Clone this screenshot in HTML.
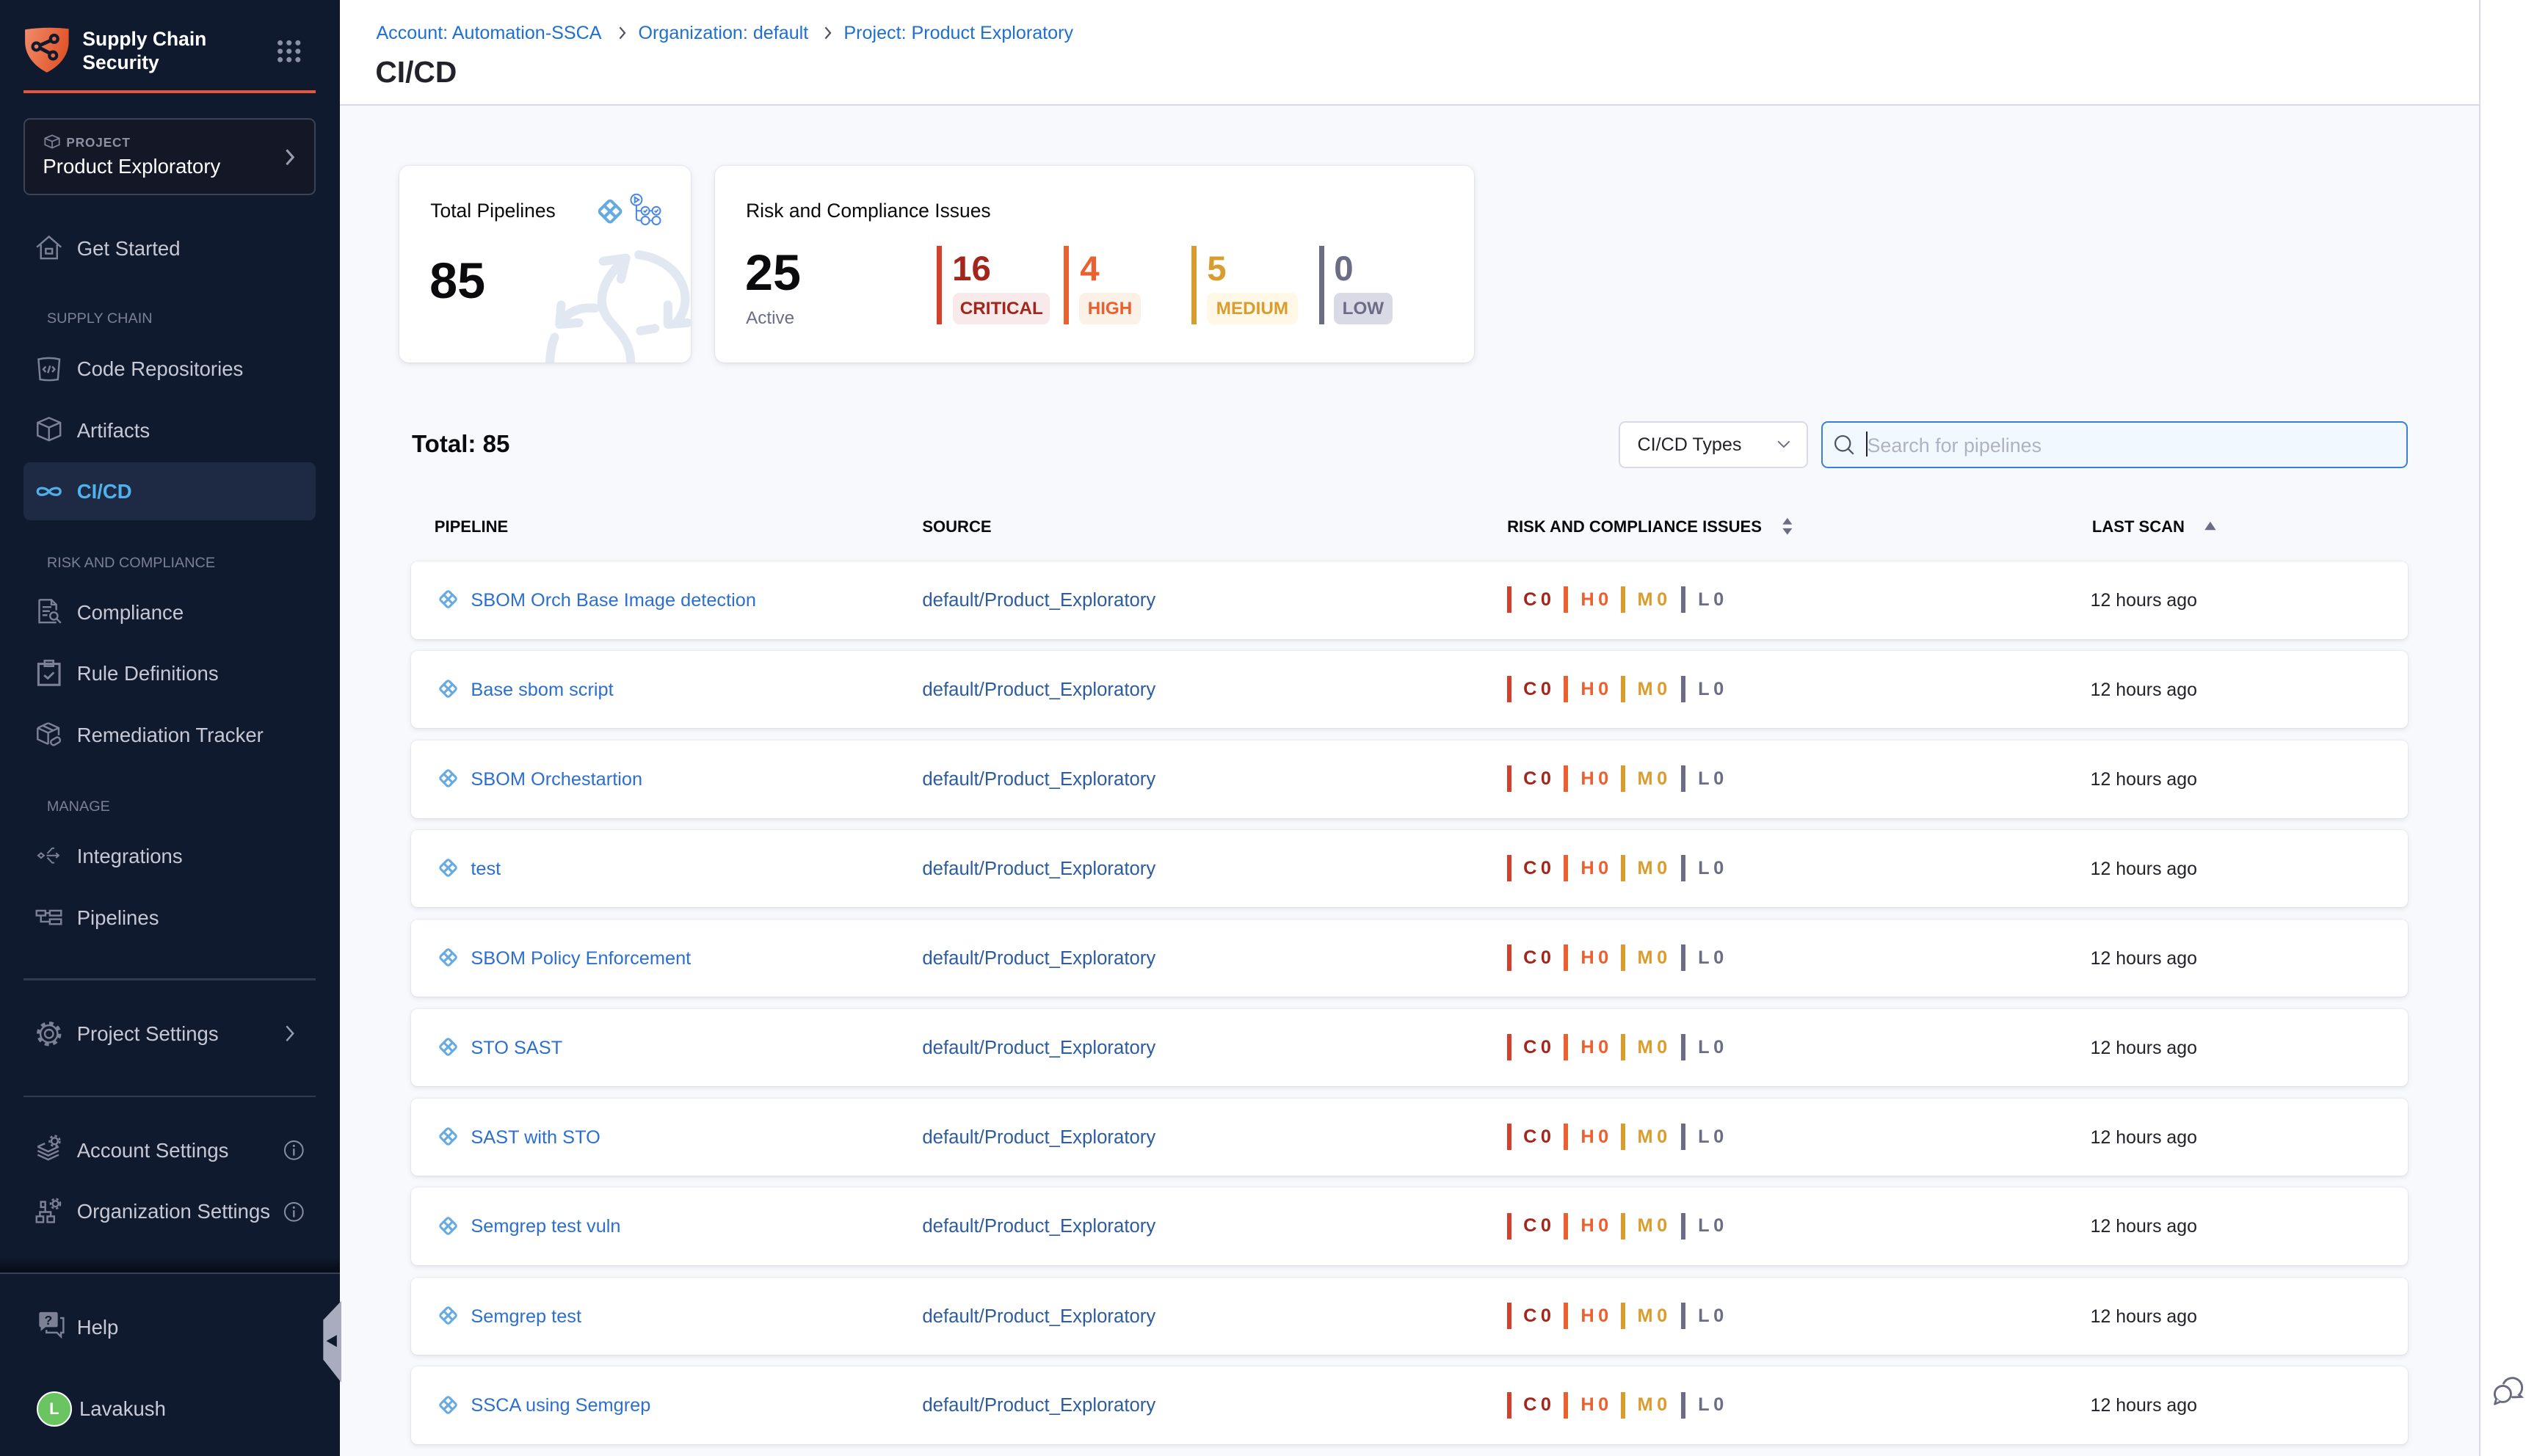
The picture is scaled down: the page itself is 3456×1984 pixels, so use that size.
<!DOCTYPE html>
<html><head><meta charset="utf-8"><title>CI/CD</title>
<style>
*{box-sizing:border-box;}
html,body{margin:0;padding:0;width:3456px;height:1984px;overflow:hidden;background:#f8f9fd;}
#app{position:relative;width:1568px;height:900px;zoom:2.20408;font-family:"Liberation Sans",Arial,sans-serif;background:#f8f9fd;overflow:hidden;color:#0b0b0d;}
.a{position:absolute;white-space:nowrap;}
.sb{position:absolute;left:0;top:0;width:210px;height:900px;background:#0f1a2e;}
.nav{position:absolute;left:47.5px;height:20px;line-height:20px;font-size:12.5px;color:#c6c8d5;margin-top:-9.3px;white-space:nowrap;}
.lbl{position:absolute;left:29px;height:12px;line-height:12px;margin-top:-5.5px;font-size:9px;color:#7b8095;white-space:nowrap;}
.ico{position:absolute;left:22px;width:17px;height:17px;margin-top:-8.5px;}
.ico svg{display:block;}
.ico path,.ico rect,.ico circle{fill:none;stroke:#7c8196;stroke-width:1.1;}
.card{position:absolute;background:#fff;border-radius:6px;box-shadow:0 0 1px rgba(40,41,61,.14),0 1px 4px rgba(96,97,112,.14);overflow:hidden;}
.row{position:absolute;left:254px;width:1234px;height:48px;background:#fff;border-radius:4px;box-shadow:0 0 1px rgba(40,41,61,.1),0 1px 3px rgba(96,97,112,.14);}
.row .nm{position:absolute;left:37px;top:0;line-height:48.5px;font-size:11.5px;color:#2c6fcf;white-space:nowrap;}
.row .src{position:absolute;left:316px;top:0;line-height:48.5px;font-size:11.7px;color:#2d5c9f;white-space:nowrap;}
.row .tm{position:absolute;left:1038px;top:0;line-height:48.5px;font-size:11.3px;color:#22222a;white-space:nowrap;}
.row .pi{position:absolute;left:15.5px;top:16px;}
.bar{position:absolute;top:15.5px;width:2.7px;height:16.3px;}
.sv{position:absolute;top:0;line-height:48px;font-size:11.5px;font-weight:bold;letter-spacing:2.5px;white-space:nowrap;}
.b1{left:677.5px;background:#d5402c;}
.b2{left:712.4px;background:#ec5f2f;}
.b3{left:747.8px;background:#d99d2f;}
.b4{left:785px;background:#6b6d85;}
.s1{left:687.5px;color:#a2261b;}
.s2{left:723px;color:#ec5f2f;}
.s3{left:758px;color:#d99d2f;}
.s4{left:795.5px;color:#6b6d85;}
.th{position:absolute;top:320px;height:12px;line-height:12px;font-size:10px;font-weight:bold;color:#0b0b0d;white-space:nowrap;}
.bc{position:absolute;top:12.6px;height:16px;line-height:16px;font-size:11.4px;color:#1f6fd0;white-space:nowrap;}
.sevbar{position:absolute;top:49.5px;width:3px;height:48.5px;}
.sevnum{position:absolute;top:50px;height:28px;line-height:28px;font-size:21.5px;font-weight:bold;}
.badge{position:absolute;top:78.5px;height:19.5px;line-height:20px;font-size:11px;font-weight:bold;text-align:center;border-radius:4px;}
</style></head><body><div id="app">

<svg width="0" height="0" style="position:absolute">
  <defs>
    <symbol id="hp" viewBox="0 0 20 20">
      <rect x="4" y="4" width="12" height="12" rx="2.6" transform="rotate(45 10 10)" fill="#66abdf"/>
      <rect x="8.4" y="4.8" width="3.2" height="3.2" transform="rotate(45 10 6.4)" fill="#fff"/>
      <rect x="12" y="8.4" width="3.2" height="3.2" transform="rotate(45 13.6 10)" fill="#fff"/>
      <rect x="8.4" y="12" width="3.2" height="3.2" transform="rotate(45 10 13.6)" fill="#fff"/>
      <rect x="4.8" y="8.4" width="3.2" height="3.2" transform="rotate(45 6.4 10)" fill="#fff"/>
    </symbol>
  </defs>
</svg>

<!-- SIDEBAR -->
<div class="sb"></div>
<svg class="a" style="left:15px;top:17px" width="28" height="29" viewBox="0 0 28 29">
  <defs><linearGradient id="lg" x1="0" y1="0" x2="1" y2="0.3"><stop offset="0" stop-color="#f08b6b"/><stop offset="1" stop-color="#e1552a"/></linearGradient></defs>
  <path d="M0.5 1.5 Q14 -0.5 27.5 1 V9 C27.5 18 21 24.5 14 28 C7 24.5 0.5 18 0.5 9 Z" fill="url(#lg)"/>
  <path d="M8 12 L18 7.5 M8 12 L17.5 17" stroke="#0f1a2e" stroke-width="2.2"/>
  <circle cx="7.5" cy="12" r="3.2" fill="#0f1a2e"/><circle cx="7.5" cy="12" r="1.3" fill="#ee7b55"/>
  <circle cx="18.5" cy="7.2" r="3.2" fill="#0f1a2e"/><circle cx="18.5" cy="7.2" r="1.3" fill="#e86a42"/>
  <circle cx="17.8" cy="17.5" r="3.2" fill="#0f1a2e"/><circle cx="17.8" cy="17.5" r="1.3" fill="#e86a42"/>
</svg>
<div class="a" style="left:51px;top:17.2px;font-size:12px;font-weight:bold;color:#fff;line-height:14.5px;">Supply Chain<br>Security</div>
<svg class="a" style="left:170px;top:24.5px" width="17" height="15" viewBox="0 0 17 15" fill="#8c90a4">
  <circle cx="3" cy="2" r="1.6"/><circle cx="8.5" cy="2" r="1.6"/><circle cx="14" cy="2" r="1.6"/>
  <circle cx="3" cy="7.2" r="1.6"/><circle cx="8.5" cy="7.2" r="1.6"/><circle cx="14" cy="7.2" r="1.6"/>
  <circle cx="3" cy="12.4" r="1.6"/><circle cx="8.5" cy="12.4" r="1.6"/><circle cx="14" cy="12.4" r="1.6"/>
</svg>
<div class="a" style="left:14.5px;top:56px;width:180.5px;height:1.6px;background:#e8553b;"></div>

<div class="a" style="left:14.5px;top:73px;width:180.5px;height:47.5px;border:1px solid #3d4254;border-radius:4px;background:#131726;"></div>
<svg class="a" style="left:27px;top:83px" width="10" height="9" viewBox="0 0 10 9"><path d="M5 0.6 L9.4 2.5 V6.5 L5 8.4 L0.6 6.5 V2.5 Z M0.6 2.5 L5 4.4 L9.4 2.5 M5 4.4 V8.4" fill="none" stroke="#7c8196" stroke-width="0.8"/></svg>
<div class="a" style="left:41px;top:83px;font-size:7.8px;font-weight:bold;color:#8d90a3;line-height:10px;letter-spacing:0.4px;">PROJECT</div>
<div class="a" style="left:26.5px;top:95.5px;font-size:12.5px;color:#fff;line-height:15px;">Product Exploratory</div>
<svg class="a" style="left:175px;top:91px" width="8" height="12" viewBox="0 0 8 12"><path d="M2 1.5 L6 6 L2 10.5" fill="none" stroke="#9a9db0" stroke-width="1.4"/></svg>

<div class="ico" style="top:153px"><svg width="17" height="17" viewBox="0 0 17 17"><path d="M1 8.5 L8.5 2 L16 8.5"/><path d="M3.5 7 V15.5 H13.5 V7"/><rect x="6.5" y="9.5" width="4" height="3"/></svg></div>
<div class="nav" style="top:153px">Get Started</div>

<div class="lbl" style="top:196.5px">SUPPLY CHAIN</div>
<div class="ico" style="top:228px"><svg width="17" height="17" viewBox="0 0 17 17"><path d="M2 2.5 Q8.5 1 15 2.5 L14 15 Q8.5 16 3 15 Z"/><path d="M6.5 7 L5 8.7 L6.5 10.4 M10.5 7 L12 8.7 L10.5 10.4 M9.2 6.5 L7.8 11"/></svg></div>
<div class="nav" style="top:227.5px">Code Repositories</div>
<div class="ico" style="top:265.5px"><svg width="17" height="17" viewBox="0 0 17 17"><path d="M8.5 1.5 L15.5 4.5 V12.5 L8.5 15.5 L1.5 12.5 V4.5 Z M1.5 4.5 L8.5 7.5 L15.5 4.5 M8.5 7.5 V15.5"/></svg></div>
<div class="nav" style="top:265.5px">Artifacts</div>

<div class="a" style="left:14.5px;top:286px;width:180.5px;height:35.7px;border-radius:4px;background:#1e2a44;"></div>
<div class="ico" style="top:304px"><svg width="17" height="17" viewBox="0 0 17 17"><path d="M8.5 8.5 C6.2 5.7 1.5 5.7 1.5 8.5 C1.5 11.3 6.2 11.3 8.5 8.5 C10.8 5.7 15.5 5.7 15.5 8.5 C15.5 11.3 10.8 11.3 8.5 8.5 Z" style="stroke:#4fb0e8;stroke-width:1.5"/></svg></div>
<div class="nav" style="top:303.5px;color:#4fb2ea;font-weight:bold;">CI/CD</div>

<div class="lbl" style="top:347.5px">RISK AND COMPLIANCE</div>
<div class="ico" style="top:378px"><svg width="17" height="17" viewBox="0 0 17 17"><path d="M2.5 1.5 H10 L13 4.5 V8 M13 15.5 H2.5 V1.5 M10 1.5 V4.5 H13 M4.5 6 H10 M4.5 8.5 H9 M4.5 11 H7.5"/><circle cx="11.5" cy="11.5" r="2.3"/><path d="M13.2 13.2 L15.8 15.8"/></svg></div>
<div class="nav" style="top:378px">Compliance</div>
<div class="ico" style="top:416px"><svg width="17" height="17" viewBox="0 0 17 17"><rect x="2" y="3" width="13" height="13" style="stroke-width:1.4"/><rect x="5.8" y="1" width="5.4" height="3.4" style="stroke-width:1.2"/><path d="M5.5 10 L7.8 12 L11.5 8.3" style="stroke-width:1.3"/></svg></div>
<div class="nav" style="top:416px">Rule Definitions</div>
<div class="ico" style="top:454px"><svg width="17" height="17" viewBox="0 0 17 17"><path d="M8 1.5 L14.5 4.5 V9 M1.5 4.5 V11.5 L8 14.5 M1.5 4.5 L8 7.5 L14.5 4.5 M8 7.5 V14.5 M1.5 4.5 L8 1.5 M4.5 3 L11 6"/><rect x="9.5" y="11" width="6" height="3.4" rx="1.5" transform="rotate(-30 12.5 12.7)"/></svg></div>
<div class="nav" style="top:454px">Remediation Tracker</div>

<div class="lbl" style="top:498px">MANAGE</div>
<div class="ico" style="top:529px"><svg width="17" height="17" viewBox="0 0 17 17"><path d="M1.8 8.5 L3.6 7 L5.4 8.5 L3.6 10 Z M7 8.5 H14.5 M12.8 7 L14.5 8.5 L12.8 10 M7.5 7.2 L10.5 4 H11.8 M7.5 9.8 L10.5 13 H11.8" style="stroke-width:0.9"/></svg></div>
<div class="nav" style="top:529px">Integrations</div>
<div class="ico" style="top:567px"><svg width="17" height="17" viewBox="0 0 17 17"><rect x="0.8" y="4.5" width="5.5" height="3"/><rect x="9" y="4.5" width="7" height="3"/><rect x="9" y="9.8" width="7" height="3"/><path d="M6.3 6 H9 M3.5 7.5 V11.3 H9"/></svg></div>
<div class="nav" style="top:567px">Pipelines</div>

<div class="a" style="left:14.5px;top:605px;width:180.5px;height:1px;background:#343a4e;"></div>
<div class="ico" style="top:639px"><svg width="17" height="17" viewBox="0 0 17 17"><circle cx="8.5" cy="8.5" r="2.6"/><circle cx="8.5" cy="8.5" r="5.3"/><circle cx="8.5" cy="8.5" r="6.6" style="stroke-width:2;stroke-dasharray:2.6 2.6"/></svg></div>
<div class="nav" style="top:638.5px">Project Settings</div>
<svg class="a" style="left:175px;top:633px" width="8" height="12" viewBox="0 0 8 12"><path d="M2 1.5 L6 6 L2 10.5" fill="none" stroke="#9a9db0" stroke-width="1.1"/></svg>
<div class="a" style="left:14.5px;top:677.5px;width:180.5px;height:1px;background:#343a4e;"></div>

<div class="ico" style="top:710px"><svg width="17" height="17" viewBox="0 0 17 17"><path d="M1.5 10 L8 13 L14.5 10 M1.5 12.5 L8 15.5 L14.5 12.5 M1.5 7.5 L8 10.5 L14.5 7.5 M1.5 7.5 L6 5.5"/><circle cx="12" cy="4" r="2"/><circle cx="12" cy="4" r="3.2" style="stroke-dasharray:1.5 1.5"/></svg></div>
<div class="nav" style="top:710.5px">Account Settings</div>
<svg class="a" style="left:175px;top:704.5px" width="13" height="13" viewBox="0 0 13 13"><circle cx="6.5" cy="6.5" r="5.6" fill="none" stroke="#8a8ea3" stroke-width="0.9"/><path d="M6.5 5.5 V9.8" stroke="#8a8ea3" stroke-width="1"/><circle cx="6.5" cy="3.8" r="0.7" fill="#8a8ea3"/></svg>
<div class="ico" style="top:748.5px"><svg width="17" height="17" viewBox="0 0 17 17"><rect x="0.8" y="12" width="4.2" height="3.6"/><rect x="7.5" y="12" width="4.2" height="3.6"/><path d="M2.9 12 V9.3 H9.6 V12 M6.2 9.3 V6.3 M3.5 3 H6.2 V6.3 H3.5 Z"/><circle cx="12.5" cy="4.2" r="1.8"/><circle cx="12.5" cy="4.2" r="3" style="stroke-dasharray:1.5 1.4"/></svg></div>
<div class="nav" style="top:748.5px">Organization Settings</div>
<svg class="a" style="left:175px;top:742.5px" width="13" height="13" viewBox="0 0 13 13"><circle cx="6.5" cy="6.5" r="5.6" fill="none" stroke="#8a8ea3" stroke-width="0.9"/><path d="M6.5 5.5 V9.8" stroke="#8a8ea3" stroke-width="1"/><circle cx="6.5" cy="3.8" r="0.7" fill="#8a8ea3"/></svg>

<div class="a" style="left:0;top:777px;width:210px;height:9.5px;background:linear-gradient(to bottom,rgba(5,8,15,0),rgba(3,5,10,0.7));"></div>
<div class="a" style="left:0;top:786.5px;width:210px;height:1px;background:#3a4053;"></div>

<div class="a" style="left:22.5px;top:810px;"><svg width="19" height="19" viewBox="0 0 19 19"><path d="M1.5 2.5 Q1.5 1.3 2.7 1.3 H12 Q13 1.3 13 2.5 V9.5 Q13 10.6 12 10.6 H5.5 L2.5 13 V10.6 Q1.5 10.4 1.5 9.5 Z" fill="#7c8196"/><text x="7.2" y="9" font-size="8" font-weight="bold" fill="#0f1a2e" text-anchor="middle" font-family="Liberation Sans,sans-serif">?</text><path d="M14.5 5 H16.5 V14 H15 V16.5 L12.5 14 H6 V12.3" fill="none" stroke="#7c8196" stroke-width="1.1"/></svg></div>
<div class="nav" style="top:820px">Help</div>

<div class="a" style="left:22.5px;top:860px;width:22px;height:22px;border-radius:50%;background:#6bc462;border:1px solid #fff;color:#fff;font-size:10px;font-weight:bold;text-align:center;line-height:20px;">L</div>
<div class="nav" style="top:870.5px;left:49px;font-size:12.5px;color:#c9cbd8;">Lavakush</div>

<svg class="a" style="left:199px;top:803px" width="12" height="53" viewBox="199 803 12 53"><polygon points="211,804 199.6,816 199.6,840.5 211,855" fill="#a9abbe"/><polygon points="201.5,829 208,825.3 208,832.7" fill="#0f1a2e"/></svg>

<!-- HEADER -->
<div class="a" style="left:210px;top:0;width:1322px;height:65.5px;background:#fff;border-bottom:1px solid #d8dae5;"></div>
<div class="bc" style="left:232.5px">Account: Automation-SSCA</div>
<svg class="a" style="left:381px;top:16px" width="7" height="9" viewBox="0 0 7 9"><path d="M2 1 L5 4.5 L2 8" fill="none" stroke="#4f5162" stroke-width="1"/></svg>
<div class="bc" style="left:394.5px">Organization: default</div>
<svg class="a" style="left:508px;top:16px" width="7" height="9" viewBox="0 0 7 9"><path d="M2 1 L5 4.5 L2 8" fill="none" stroke="#4f5162" stroke-width="1"/></svg>
<div class="bc" style="left:521.5px">Project: Product Exploratory</div>
<div class="a" style="left:232px;top:33px;font-size:18.5px;font-weight:bold;color:#22222a;line-height:23px;">CI/CD</div>

<!-- right strip -->
<div class="a" style="left:1532px;top:0;width:36px;height:900px;background:#fff;border-left:1px solid #d9dae5;"></div>
<svg class="a" style="left:1540px;top:850px" width="21" height="20" viewBox="0 0 21 20"><path d="M7.5 5.5 A6 6 0 1 1 17 12.5 L18.5 13.8 L15 14 M15 14 H13" fill="none" stroke="#676a80" stroke-width="1.3" stroke-linecap="round"/><circle cx="7" cy="12" r="5" fill="#fff" stroke="#676a80" stroke-width="1.3"/><path d="M3 15 L2 18.3 L5.5 16.8" fill="#fff" stroke="#676a80" stroke-width="1.2" stroke-linejoin="round"/></svg>

<!-- CARD 1 -->
<div class="card" style="left:247px;top:102.5px;width:180px;height:121.5px;">
  <svg class="a" style="left:0;top:0" width="180" height="122" viewBox="0 0 180 122">
    <g fill="none" stroke="#e2e8f2" stroke-width="5.5" stroke-linecap="round" stroke-linejoin="round">
      <path d="M139 58 C124 72 121 86 131 97 C139 106 144 112 143 126"/>
      <polyline points="126,59 140,57 137,70"/>
      <path d="M148 55 C172 58 184 80 172 96"/>
      <polyline points="166,86 166,98 178,97"/>
      <path d="M158 100.5 L149 102"/>
      <path d="M121 88 C112 87 105 90 100 96"/>
      <polyline points="100,86 99,98 111,97"/>
      <path d="M96 106 Q93 113 93 125"/>
    </g>
  </svg>
  <div class="a" style="left:19px;top:21px;font-size:12px;line-height:14px;color:#0b0b0d;">Total Pipelines</div>
  <svg class="a" style="left:120px;top:18px" width="20" height="20"><use href="#hp"/></svg>
  <svg class="a" style="left:142px;top:17px" width="21" height="21" viewBox="0 0 21 21" fill="none" stroke="#4a86e8" stroke-width="0.9">
    <circle cx="4.5" cy="4.2" r="3.4"/><path d="M3.5 2.6 L6 4.2 L3.5 5.8 Z"/>
    <path d="M4.5 7.6 V15.5 Q4.5 17 6.2 17 H7.5"/>
    <path d="M4.5 11 H7.5"/>
    <circle cx="10" cy="11" r="2.5"/><circle cx="16.8" cy="11" r="2.5"/>
    <circle cx="10" cy="17" r="2.5"/><circle cx="16.8" cy="17" r="2.5"/>
    <path d="M12.5 11 H14.3 M12.5 17 H14.3"/>
    <path d="M9 11 L9.8 11.8 L11.2 10.2 M15.8 11 L16.6 11.8 L18 10.2"/>
  </svg>
  <div class="a" style="left:18.5px;top:53.5px;font-size:31px;font-weight:bold;line-height:36px;color:#0b0b0d;">85</div>
</div>

<!-- CARD 2 -->
<div class="card" style="left:442px;top:102.5px;width:469px;height:121.5px;">
  <div class="a" style="left:19px;top:21px;font-size:12px;line-height:14px;color:#0b0b0d;">Risk and Compliance Issues</div>
  <div class="a" style="left:18.5px;top:48.5px;font-size:31px;font-weight:bold;line-height:36px;color:#0b0b0d;">25</div>
  <div class="a" style="left:19px;top:87.5px;font-size:11px;line-height:14px;color:#6b6d85;">Active</div>

  <div class="sevbar" style="left:137px;background:#d5402c;"></div>
  <div class="sevnum" style="left:146.5px;color:#a2261b;">16</div>
  <div class="badge" style="left:147px;width:60px;background:#f8eaea;color:#a2261b;">CRITICAL</div>

  <div class="sevbar" style="left:215.5px;background:#ec5f2f;"></div>
  <div class="sevnum" style="left:225.5px;color:#ec5f2f;">4</div>
  <div class="badge" style="left:225px;width:38px;background:#fcf1e7;color:#ec5f2f;">HIGH</div>

  <div class="sevbar" style="left:294.5px;background:#d99d2f;"></div>
  <div class="sevnum" style="left:304px;color:#d99d2f;">5</div>
  <div class="badge" style="left:304px;width:56px;background:#fff8e6;color:#d99d2f;">MEDIUM</div>

  <div class="sevbar" style="left:373.5px;background:#6b6d85;"></div>
  <div class="sevnum" style="left:382.5px;color:#6b6d85;">0</div>
  <div class="badge" style="left:382.5px;width:36px;background:#d9dae5;color:#6b6d85;">LOW</div>
</div>

<!-- toolbar -->
<div class="a" style="left:254.5px;top:266px;font-size:15px;font-weight:bold;line-height:18px;color:#0b0b0d;">Total: 85</div>
<div class="a" style="left:1000.5px;top:260.5px;width:117px;height:29px;background:#fff;border:1px solid #d9dae5;border-radius:4px;"></div>
<div class="a" style="left:1012px;top:268px;font-size:11.4px;line-height:14px;color:#22222a;">CI/CD Types</div>
<svg class="a" style="left:1098px;top:271.5px" width="9" height="7" viewBox="0 0 9 7"><path d="M1 1.5 L4.5 5 L8 1.5" fill="none" stroke="#6b6d85" stroke-width="0.9"/></svg>
<div class="a" style="left:1125.5px;top:260.5px;width:362.5px;height:29px;background:#f2f9fe;border:1px solid #3a7fd8;border-radius:4px;"></div>
<svg class="a" style="left:1133px;top:268px" width="14" height="14" viewBox="0 0 14 14"><circle cx="6" cy="6" r="4.6" fill="none" stroke="#4f5162" stroke-width="1"/><path d="M9.4 9.4 L12.6 12.6" stroke="#4f5162" stroke-width="1"/></svg>
<div class="a" style="left:1153.3px;top:267px;width:0.8px;height:15px;background:#22222a;"></div>
<div class="a" style="left:1154px;top:268px;font-size:12.2px;line-height:15px;color:#b0b1c4;">Search for pipelines</div>

<!-- table header -->
<div class="th" style="left:268.5px">PIPELINE</div>
<div class="th" style="left:570px">SOURCE</div>
<div class="th" style="left:931.5px">RISK AND COMPLIANCE ISSUES</div>
<svg class="a" style="left:1100.5px;top:319.5px" width="8" height="12" viewBox="0 0 8 12"><path d="M4 0.8 L7 4.8 H1 Z M4 11.2 L7 7.2 H1 Z" fill="#6b6d85"/></svg>
<div class="th" style="left:1293px">LAST SCAN</div>
<svg class="a" style="left:1361.5px;top:321.5px" width="9" height="7" viewBox="0 0 9 7"><path d="M4.5 0.8 L8 6 H1 Z" fill="#6b6d85"/></svg>

<!-- rows -->
<div class="row" style="top:347px"><svg class="pi" width="15" height="15"><use href="#hp"/></svg><div class="nm">SBOM Orch Base Image detection</div><div class="src">default/Product_Exploratory</div><div class="bar b1"></div><div class="sv s1">C0</div><div class="bar b2"></div><div class="sv s2">H0</div><div class="bar b3"></div><div class="sv s3">M0</div><div class="bar b4"></div><div class="sv s4">L0</div><div class="tm">12 hours ago</div></div>
<div class="row" style="top:402.3px"><svg class="pi" width="15" height="15"><use href="#hp"/></svg><div class="nm">Base sbom script</div><div class="src">default/Product_Exploratory</div><div class="bar b1"></div><div class="sv s1">C0</div><div class="bar b2"></div><div class="sv s2">H0</div><div class="bar b3"></div><div class="sv s3">M0</div><div class="bar b4"></div><div class="sv s4">L0</div><div class="tm">12 hours ago</div></div>
<div class="row" style="top:457.7px"><svg class="pi" width="15" height="15"><use href="#hp"/></svg><div class="nm">SBOM Orchestartion</div><div class="src">default/Product_Exploratory</div><div class="bar b1"></div><div class="sv s1">C0</div><div class="bar b2"></div><div class="sv s2">H0</div><div class="bar b3"></div><div class="sv s3">M0</div><div class="bar b4"></div><div class="sv s4">L0</div><div class="tm">12 hours ago</div></div>
<div class="row" style="top:513px"><svg class="pi" width="15" height="15"><use href="#hp"/></svg><div class="nm">test</div><div class="src">default/Product_Exploratory</div><div class="bar b1"></div><div class="sv s1">C0</div><div class="bar b2"></div><div class="sv s2">H0</div><div class="bar b3"></div><div class="sv s3">M0</div><div class="bar b4"></div><div class="sv s4">L0</div><div class="tm">12 hours ago</div></div>
<div class="row" style="top:568.3px"><svg class="pi" width="15" height="15"><use href="#hp"/></svg><div class="nm">SBOM Policy Enforcement</div><div class="src">default/Product_Exploratory</div><div class="bar b1"></div><div class="sv s1">C0</div><div class="bar b2"></div><div class="sv s2">H0</div><div class="bar b3"></div><div class="sv s3">M0</div><div class="bar b4"></div><div class="sv s4">L0</div><div class="tm">12 hours ago</div></div>
<div class="row" style="top:623.7px"><svg class="pi" width="15" height="15"><use href="#hp"/></svg><div class="nm">STO SAST</div><div class="src">default/Product_Exploratory</div><div class="bar b1"></div><div class="sv s1">C0</div><div class="bar b2"></div><div class="sv s2">H0</div><div class="bar b3"></div><div class="sv s3">M0</div><div class="bar b4"></div><div class="sv s4">L0</div><div class="tm">12 hours ago</div></div>
<div class="row" style="top:679px"><svg class="pi" width="15" height="15"><use href="#hp"/></svg><div class="nm">SAST with STO</div><div class="src">default/Product_Exploratory</div><div class="bar b1"></div><div class="sv s1">C0</div><div class="bar b2"></div><div class="sv s2">H0</div><div class="bar b3"></div><div class="sv s3">M0</div><div class="bar b4"></div><div class="sv s4">L0</div><div class="tm">12 hours ago</div></div>
<div class="row" style="top:734.3px"><svg class="pi" width="15" height="15"><use href="#hp"/></svg><div class="nm">Semgrep test vuln</div><div class="src">default/Product_Exploratory</div><div class="bar b1"></div><div class="sv s1">C0</div><div class="bar b2"></div><div class="sv s2">H0</div><div class="bar b3"></div><div class="sv s3">M0</div><div class="bar b4"></div><div class="sv s4">L0</div><div class="tm">12 hours ago</div></div>
<div class="row" style="top:789.7px"><svg class="pi" width="15" height="15"><use href="#hp"/></svg><div class="nm">Semgrep test</div><div class="src">default/Product_Exploratory</div><div class="bar b1"></div><div class="sv s1">C0</div><div class="bar b2"></div><div class="sv s2">H0</div><div class="bar b3"></div><div class="sv s3">M0</div><div class="bar b4"></div><div class="sv s4">L0</div><div class="tm">12 hours ago</div></div>
<div class="row" style="top:845px"><svg class="pi" width="15" height="15"><use href="#hp"/></svg><div class="nm">SSCA using Semgrep</div><div class="src">default/Product_Exploratory</div><div class="bar b1"></div><div class="sv s1">C0</div><div class="bar b2"></div><div class="sv s2">H0</div><div class="bar b3"></div><div class="sv s3">M0</div><div class="bar b4"></div><div class="sv s4">L0</div><div class="tm">12 hours ago</div></div>

</div></body></html>
